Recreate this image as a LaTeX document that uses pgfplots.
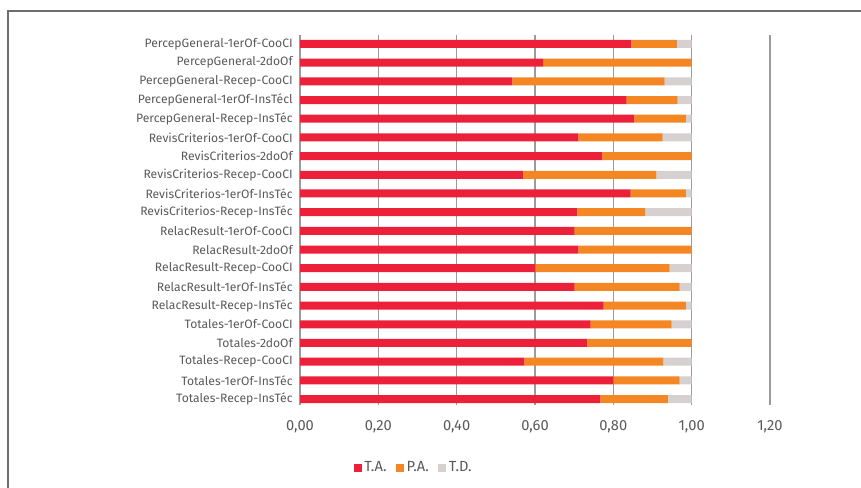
\documentclass[border=0pt]{standalone}
\usepackage{pgfplots}
\pgfplotsset{compat=1.18}
\usepackage{pgfplotstable}
\usepackage{fontspec}
\setmainfont{Fira Sans}
\definecolor{cTA}{RGB}{237,32,57}
\definecolor{cPA}{RGB}{245,134,36}
\definecolor{cTD}{RGB}{214,208,209}
\definecolor{txt}{RGB}{90,90,90}
\definecolor{grd}{RGB}{155,155,155}
\pgfplotstableread{
y TA PA TD
0 0.846 0.116 0.038
1 0.621 0.379 0
2 0.542 0.389 0.069
3 0.834 0.130 0.036
4 0.854 0.131 0.015
5 0.711 0.215 0.074
6 0.772 0.228 0
7 0.570 0.340 0.090
8 0.844 0.141 0.015
9 0.708 0.174 0.118
10 0.701 0.299 0
11 0.711 0.289 0
12 0.601 0.343 0.056
13 0.701 0.268 0.031
14 0.775 0.210 0.015
15 0.742 0.207 0.051
16 0.734 0.266 0
17 0.573 0.355 0.072
18 0.800 0.169 0.031
19 0.767 0.172 0.061
}\datatable
\begin{document}
\begin{tikzpicture}
\useasboundingbox (0,0) rectangle (645.75pt,366pt);
\draw[color={rgb,255:red,110;green,110;blue,110}, line width=0.9pt] (6pt,0pt) -- (6pt,357.75pt) -- (645.75pt,357.75pt);
\begin{axis}[
  at={(225pt,62.25pt)}, anchor=south west,
  scale only axis, width=352.5pt, height=277.5pt,
  xbar stacked, bar width=0.43,
  xmin=0, xmax=1.2, ymin=-0.48, ymax=19.32,
  y dir=reverse,
  xtick={0,0.2,...,1.21},
  ytick={0,...,19},
  yticklabels={PercepGeneral-1erOf-CooCI,PercepGeneral-2doOf,PercepGeneral-Recep-CooCI,PercepGeneral-1erOf-InsTécl,PercepGeneral-Recep-InsTéc,RevisCriterios-1erOf-CooCI,RevisCriterios-2doOf,RevisCriterios-Recep-CooCI,RevisCriterios-1erOf-InsTéc,RevisCriterios-Recep-InsTéc,RelacResult-1erOf-CooCI,RelacResult-2doOf,RelacResult-Recep-CooCI,RelacResult-1erOf-InsTéc,RelacResult-Recep-InsTéc,Totales-1erOf-CooCI,Totales-2doOf,Totales-Recep-CooCI,Totales-1erOf-InsTéc,Totales-Recep-InsTéc},
  xmajorgrids, major grid style={grd, line width=1.0pt},
  axis line style={draw=none},
  major tick length=0pt,
  xticklabel style={font=\fontsize{11}{12}\selectfont, text=txt, yshift=-8pt},
  yticklabel style={font=\fontsize{9.1}{10}\selectfont, text=txt, xshift=-2pt},
  /pgf/number format/assume math mode=true,
  xticklabel={\pgfmathprintnumber[fixed,fixed zerofill,precision=2,use comma]{\tick}},
  legend style={at={(0.2426,-0.170)}, anchor=center, draw=none, fill=none,
    legend columns=-1, font=\fontsize{11}{12}\selectfont, text=txt,
    /tikz/every even column/.append style={column sep=5pt}},
  legend image code/.code={\fill[#1] (0pt,-3pt) rectangle (6pt,3pt);},
]
\addplot[fill=cTA, draw=none] table[x=TA, y=y] {\datatable};
\addplot[fill=cPA, draw=none] table[x=PA, y=y] {\datatable};
\addplot[fill=cTD, draw=none] table[x=TD, y=y] {\datatable};
\legend{T.A.,P.A.,T.D.}
\end{axis}
\end{tikzpicture}
\end{document}
